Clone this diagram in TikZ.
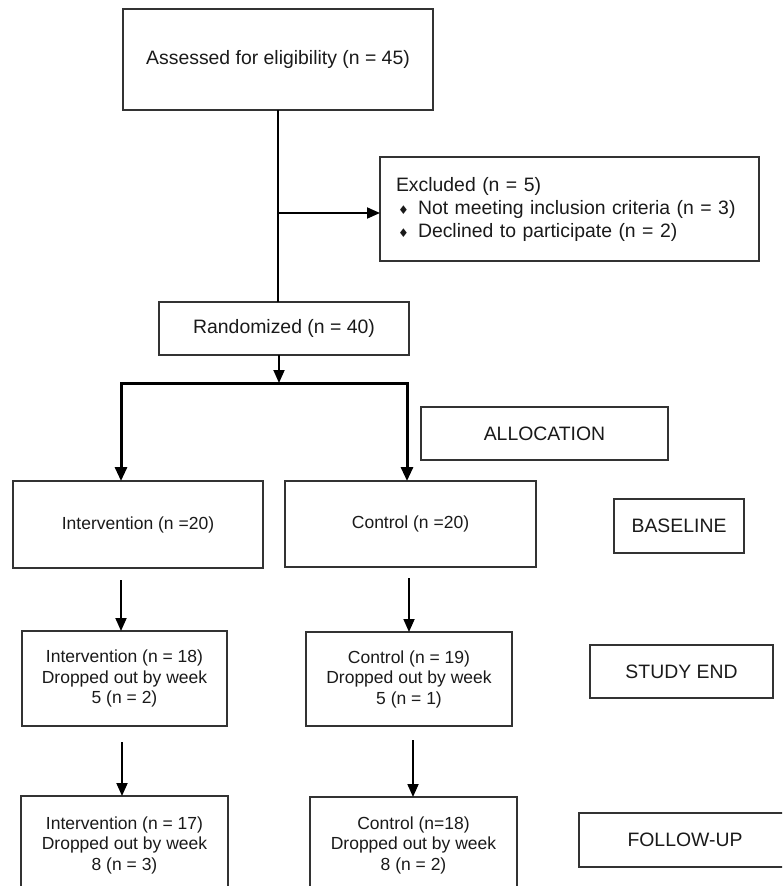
\documentclass[tikz,border=0pt]{standalone}
\usepackage{fontspec}
\setmainfont{Liberation Sans}
\newfontfamily\symfont{DejaVu Sans}
\usepackage{xcolor}
\usepackage{tikz}
\usetikzlibrary{arrows.meta}
\definecolor{edge}{HTML}{333333}
\definecolor{ink}{HTML}{1A1A1A}
\tikzset{
  box/.style={draw=edge, line width=1.4pt, inner sep=0pt, outer sep=0pt, align=center, text=ink, font=\fontsize{17.5}{20.5}\selectfont},
  bigbox/.style={box, font=\fontsize{19.4}{23}\selectfont},
  link/.style={draw=black, line width=1.8pt},
  arr/.style={link, -{Triangle[length=13pt,width=11pt]}},
  boldlink/.style={draw=black, line width=3pt, line join=miter},
}
\newcommand{\bul}{{\symfont\fontsize{12}{12}\selectfont ♦}}

\begin{document}
\begin{tikzpicture}[x=1pt,y=-1pt]
  \useasboundingbox (0,0) rectangle (782,886);
  \fill[white] (0,0) rectangle (782,886);
  \clip (0,0) rectangle (782,886);

  % enrolment
  \node[bigbox, minimum width=310pt, minimum height=101pt] (assess) at (278,59.5) {Assessed for eligibility (n = 45)};
  \node[bigbox, inner xsep=16pt, text width=347pt, align=left, minimum height=104pt] (excl) at (569.5,209)
    {Excluded (n = 5)\\
     \makebox[22pt][l]{\hspace{2pt}\bul}Not meeting inclusion criteria (n = 3)\\
     \makebox[22pt][l]{\hspace{2pt}\bul}Declined to participate (n = 2)};
  \node[bigbox, minimum width=250pt, minimum height=53pt] (rand) at (284,328.5) {Randomized (n = 40)};

  % stage labels
  \node[bigbox, minimum width=247pt, minimum height=53pt] (alloc) at (544.5,433.5) {ALLOCATION};
  \node[bigbox, minimum width=130pt, minimum height=54pt] (base) at (679,526) {BASELINE};
  \node[bigbox, minimum width=183pt, minimum height=53pt] (studyend) at (681.5,671.5) {STUDY END};
  \node[bigbox, minimum width=212pt, minimum height=54pt] (follow) at (685,840) {FOLLOW-UP};

  % groups
  \node[box, minimum width=250pt, minimum height=87pt] (int20) at (138,524.5) {Intervention (n =20)};
  \node[box, minimum width=251pt, minimum height=86pt] (con20) at (410.5,524) {Control (n =20)};
  \node[box, minimum width=205pt, minimum height=95pt] (int18) at (124.5,678.5) {Intervention (n = 18)\\Dropped out by week\\5 (n = 2)};
  \node[box, minimum width=206pt, minimum height=94pt] (con19) at (409,679) {Control (n = 19)\\Dropped out by week\\5 (n = 1)};
  \node[box, minimum width=207pt, minimum height=98pt] (int17) at (124.5,845) {Intervention (n = 17)\\Dropped out by week\\8 (n = 3)};
  \node[box, minimum width=207pt, minimum height=96pt] (con18) at (413.5,845) {Control (n=18)\\Dropped out by week\\8 (n = 2)};

  % connectors
  \draw[link] (assess.south) -- (assess.south |- rand.north);
  \coordinate (branch) at (278,213);
  \draw[arr] (branch) -- (branch -| excl.west);
  \coordinate (fork) at (279,383);
  \draw[arr] (fork |- rand.south) -- (fork);
  \coordinate (forkL) at (121,383);
  \coordinate (forkR) at (407,383);
  \draw[boldlink, {Triangle[length=14pt,width=12pt]}-{Triangle[length=14pt,width=12pt]}]
    (forkL |- int20.north) -- (forkL) -- (forkR) -- (forkR |- con20.north);

  \coordinate (s1) at (121,580);
  \coordinate (s2) at (409,578);
  \coordinate (s3) at (122,742);
  \coordinate (s4) at (413,740);
  \draw[arr] (s1) -- (s1 |- int18.north);
  \draw[arr] (s2) -- (s2 |- con19.north);
  \draw[arr] (s3) -- (s3 |- int17.north);
  \draw[arr] (s4) -- (s4 |- con18.north);
\end{tikzpicture}
\end{document}
